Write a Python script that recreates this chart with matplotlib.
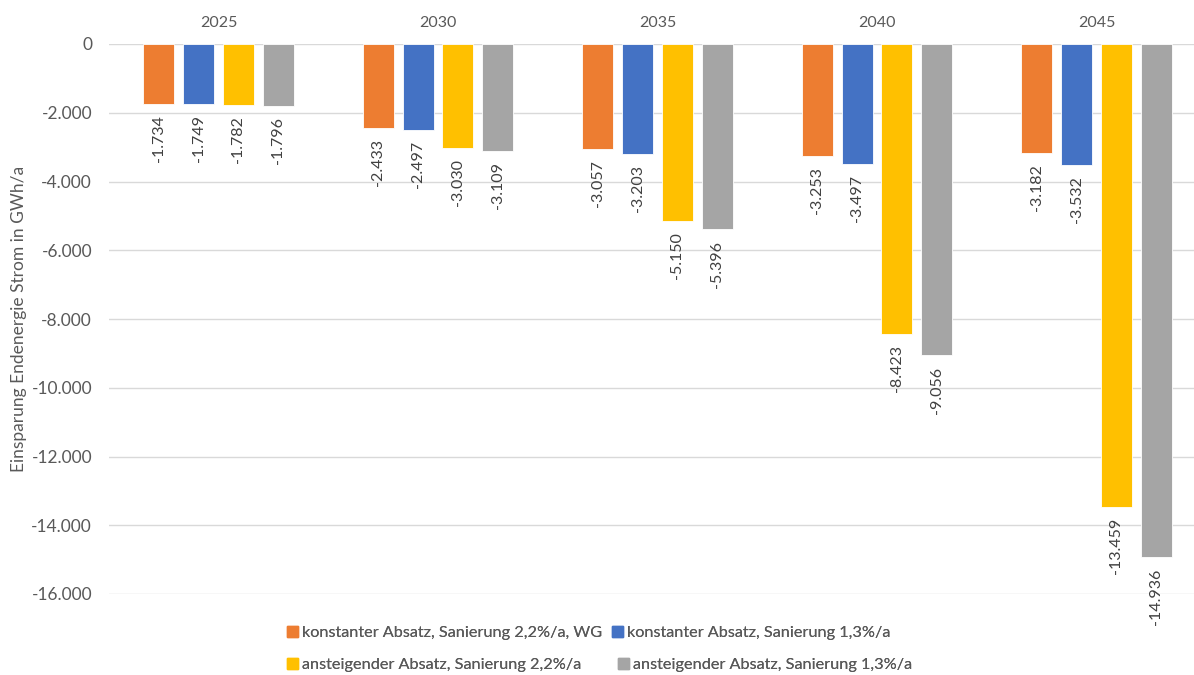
import matplotlib.pyplot as plt
import matplotlib.patches as mpatches
import numpy as np

plt.rcParams['font.family'] = ['Lato', 'DejaVu Sans']

years = ['2025', '2030', '2035', '2040', '2045']
series_names = ['konstanter Absatz, Sanierung 2,2%/a, WG',
                'konstanter Absatz, Sanierung 1,3%/a',
                'ansteigender Absatz, Sanierung 2,2%/a',
                'ansteigender Absatz, Sanierung 1,3%/a']
konst_22 = [-1734, -2433, -3057, -3253, -3182]
konst_13 = [-1749, -2497, -3203, -3497, -3532]
anst_22 = [-1782, -3030, -5150, -8423, -13459]
anst_13 = [-1796, -3109, -5396, -9056, -14936]
y_ticks = [0, -2000, -4000, -6000, -8000, -10000, -12000, -14000, -16000]

colors = ['#ED7D31', '#4472C4', '#FFC000', '#A5A5A5']
text_grey = '#595959'

def de_fmt(v):
    s = f'{abs(v):,}'.replace(',', '.')
    return ('-' if v < 0 else '') + s

fig = plt.figure(figsize=(11.94, 6.75), dpi=100)
# axes spans slightly past the right edge, like the cropped original
ax = fig.add_axes([108.75 / 1194, 81 / 675, 1097.5 / 1194, 550 / 675])

x = np.arange(len(years))
width = 0.141
step = 0.182
all_series = [konst_22, konst_13, anst_22, anst_13]
for i, (vals, col) in enumerate(zip(all_series, colors)):
    pos = x + (i - 1.5) * step
    bars = ax.bar(pos, vals, width, color=col, edgecolor='white',
                  linewidth=0.6, zorder=3)
    for b, v in zip(bars, vals):
        ax.annotate(de_fmt(v), (b.get_x() + b.get_width() / 2, v),
                    xytext=(0, -8), textcoords='offset points',
                    rotation=90, ha='center', va='top', fontsize=11.5,
                    color='#404040', annotation_clip=False)

ax.set_xlim(-0.5, len(years) - 0.5)
ax.set_ylim(-16000, 0)
ax.set_yticks(y_ticks)
ax.set_yticklabels([de_fmt(t) for t in y_ticks])
ax.xaxis.tick_top()
ax.set_xticks(x)
ax.set_xticklabels(years)
ax.tick_params(axis='both', length=0, colors=text_grey)
ax.tick_params(axis='x', pad=10, labelsize=11.5)
ax.tick_params(axis='y', pad=12, labelsize=12.5)
ax.yaxis.grid(True, color='#d9d9d9', linewidth=1, zorder=0)
for s in ax.spines.values():
    s.set_visible(False)

fig.text(19 / 1194, 1 - 319 / 675, 'Einsparung Endenergie Strom in GWh/a',
         rotation=90, ha='center', va='center', fontsize=12.5, color=text_grey)

# legend entries placed one by one, like the Excel layout
handles = [mpatches.Patch(color=c) for c in colors]
spots = [(287, 633), (612, 633), (287, 665), (618, 665)]
for h, name, (xp, yp) in zip(handles, series_names, spots):
    leg = fig.legend([h], [name], loc='center left',
                     bbox_to_anchor=(xp / 1194, 1 - yp / 675),
                     frameon=False, fontsize=11.7, handlelength=0.65,
                     handleheight=0.65, handletextpad=0.3,
                     borderaxespad=0, borderpad=0)
    for t in leg.get_texts():
        t.set_color(text_grey)
    fig.add_artist(leg)

fig.savefig('out.png', dpi=100)
